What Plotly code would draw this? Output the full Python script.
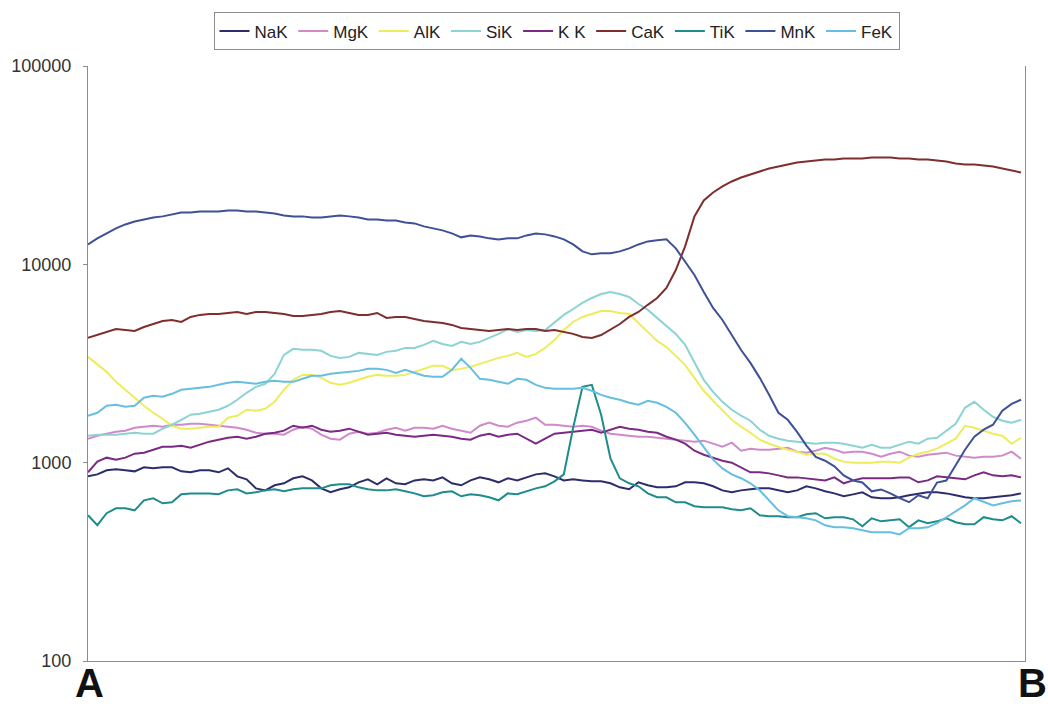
import plotly.graph_objects as go

# scan positions along the profile A -> B
scan_points = list(range(101))

NaK = [853, 873, 915, 925, 915, 904, 947, 936, 947, 947,
       904, 894, 915, 915, 894, 936, 853, 824, 742, 725,
       769, 787, 834, 853, 814, 742, 709, 734, 751, 796,
       824, 778, 834, 787, 778, 814, 824, 814, 843, 787,
       769, 814, 843, 824, 796, 834, 814, 843, 873, 883,
       853, 814, 824, 814, 805, 805, 787, 751, 734, 796,
       769, 751, 751, 760, 796, 796, 787, 760, 725, 709,
       725, 734, 742, 742, 725, 709, 725, 760, 742, 717,
       700, 677, 692, 709, 669, 661, 661, 669, 685, 700,
       709, 709, 700, 685, 669, 661, 661, 669, 677, 685,
       700]

MgK = [1321, 1368, 1400, 1433, 1450, 1501, 1518, 1536, 1518, 1554,
       1554, 1572, 1572, 1554, 1536, 1518, 1501, 1466, 1416, 1400,
       1400, 1384, 1466, 1518, 1484, 1384, 1321, 1306, 1400, 1433,
       1400, 1416, 1466, 1501, 1450, 1501, 1501, 1484, 1536, 1484,
       1450, 1416, 1536, 1591, 1536, 1518, 1591, 1628, 1686, 1554,
       1554, 1536, 1518, 1536, 1518, 1450, 1400, 1384, 1368, 1352,
       1352, 1336, 1321, 1306, 1291, 1276, 1291, 1247, 1204, 1261,
       1149, 1176, 1163, 1163, 1176, 1190, 1136, 1123, 1149, 1190,
       1163, 1123, 1136, 1136, 1110, 1072, 1110, 1136, 1085, 1072,
       1097, 1110, 1123, 1085, 1072, 1060, 1072, 1072, 1085, 1136,
       1047]

AlK = [3415, 3113, 2870, 2556, 2330, 2124, 1936, 1785, 1665, 1535,
       1483, 1483, 1500, 1518, 1518, 1684, 1724, 1848, 1827, 1870,
       2027, 2330, 2616, 2771, 2771, 2677, 2527, 2468, 2527, 2616,
       2709, 2771, 2741, 2741, 2771, 2870, 2971, 3077, 3077, 2937,
       2971, 3042, 3149, 3262, 3376, 3454, 3577, 3415, 3536, 3790,
       4160, 4670, 5120, 5430, 5620, 5820, 5820, 5686, 5620, 5064,
       4510, 4110, 3830, 3454, 3113, 2677, 2304, 2052, 1827, 1645,
       1518, 1416, 1305, 1246, 1204, 1162, 1136, 1097, 1110, 1110,
       1047, 1012, 1000, 1000, 1000, 1012, 1012, 1000, 1060, 1110,
       1136, 1176, 1246, 1321, 1535, 1500, 1449, 1399, 1367, 1246,
       1336]

SiK = [1367, 1383, 1383, 1383, 1399, 1416, 1399, 1399, 1483, 1553,
       1645, 1745, 1765, 1806, 1848, 1936, 2075, 2250, 2411, 2498,
       2805, 3495, 3750, 3706, 3706, 3665, 3454, 3376, 3415, 3577,
       3536, 3495, 3620, 3665, 3790, 3790, 3925, 4110, 3970, 3880,
       4065, 3970, 4065, 4256, 4460, 4720, 4560, 4670, 4610, 4670,
       5120, 5560, 5955, 6385, 6766, 7085, 7250, 7085, 6845, 6310,
       5890, 5366, 4890, 4460, 3925, 3185, 2616, 2276, 2027, 1848,
       1724, 1627, 1466, 1367, 1321, 1290, 1276, 1261, 1246, 1261,
       1261, 1246, 1218, 1190, 1232, 1190, 1190, 1232, 1276, 1246,
       1321, 1336, 1449, 1571, 1891, 2027, 1848, 1704, 1627, 1589,
       1645]

KK = [894, 1012, 1060, 1035, 1060, 1110, 1123, 1163, 1204, 1204,
      1218, 1190, 1232, 1276, 1306, 1336, 1352, 1321, 1352, 1400,
      1416, 1450, 1536, 1501, 1536, 1466, 1433, 1450, 1484, 1433,
      1384, 1400, 1416, 1384, 1368, 1352, 1368, 1384, 1368, 1352,
      1321, 1306, 1368, 1400, 1352, 1384, 1400, 1321, 1247, 1321,
      1400, 1416, 1433, 1450, 1466, 1416, 1466, 1518, 1484, 1466,
      1433, 1416, 1352, 1306, 1247, 1149, 1097, 1060, 1023, 1000,
      947, 894, 894, 883, 863, 843, 843, 834, 824, 814,
      843, 787, 814, 834, 834, 834, 834, 843, 843, 796,
      814, 853, 843, 834, 824, 863, 894, 863, 853, 863,
      843]

CaK = [4256, 4400, 4560, 4720, 4670, 4610, 4830, 5000, 5180, 5240,
       5120, 5430, 5560, 5620, 5620, 5686, 5750, 5620, 5750, 5750,
       5686, 5620, 5490, 5490, 5560, 5620, 5750, 5820, 5686, 5560,
       5560, 5686, 5366, 5430, 5430, 5300, 5180, 5120, 5064, 4950,
       4779, 4720, 4670, 4610, 4670, 4720, 4670, 4720, 4720, 4610,
       4670, 4560, 4460, 4300, 4256, 4400, 4670, 5000, 5430, 5750,
       6250, 6766, 7597, 9360, 12320, 17450, 21000, 23040, 24700, 26170,
       27410, 28370, 29380, 30420, 31130, 31850, 32620, 33000, 33380, 33760,
       33760, 34160, 34160, 34160, 34560, 34560, 34560, 34160, 34160, 33760,
       33760, 33380, 33000, 32230, 31850, 31850, 31480, 31130, 30420, 29720,
       29050]

TiK = [543, 484, 556, 589, 589, 575, 646, 661, 624, 631,
       693, 700, 700, 700, 693, 725, 734, 700, 709, 725,
       734, 717, 734, 742, 742, 742, 769, 778, 778, 751,
       734, 725, 725, 734, 717, 700, 677, 685, 709, 717,
       677, 693, 685, 669, 646, 700, 693, 717, 742, 760,
       805, 873, 1501, 2411, 2468, 1745, 1051, 834, 787, 760,
       700, 669, 669, 631, 631, 603, 596, 596, 596, 582,
       575, 589, 543, 537, 537, 531, 531, 549, 556, 524,
       531, 531, 518, 478, 524, 506, 512, 518, 473, 512,
       495, 506, 524, 501, 489, 489, 531, 518, 512, 537,
       495]

MnK = [12600, 13520, 14320, 15170, 15890, 16450, 16840, 17240, 17450, 17850,
       18270, 18270, 18470, 18470, 18470, 18700, 18700, 18470, 18470, 18270,
       18060, 17650, 17450, 17450, 17240, 17240, 17450, 17650, 17450, 17240,
       16840, 16840, 16650, 16650, 16270, 16080, 15540, 15170, 14830, 14320,
       13680, 13990, 13830, 13520, 13360, 13520, 13520, 13990, 14320, 14160,
       13830, 13360, 12600, 11620, 11230, 11360, 11360, 11620, 12040, 12600,
       13050, 13210, 13360, 12040, 10350, 8830, 7250, 6025, 5240, 4400,
       3700, 3185, 2677, 2200, 1785, 1645, 1430, 1220, 1070, 1023,
       958, 862, 813, 794, 717, 733, 700, 662, 632, 685,
       662, 794, 813, 970, 1162, 1352, 1466, 1553, 1827, 1980,
       2075]

FeK = [1724, 1785, 1936, 1958, 1913, 1936, 2124, 2173, 2149, 2224,
       2330, 2357, 2384, 2411, 2468, 2527, 2556, 2527, 2498, 2556,
       2586, 2556, 2556, 2647, 2741, 2741, 2805, 2837, 2870, 2903,
       2971, 2971, 2937, 2837, 2937, 2837, 2741, 2709, 2709, 2937,
       3340, 3006, 2647, 2616, 2556, 2498, 2647, 2616, 2468, 2384,
       2357, 2357, 2357, 2384, 2304, 2198, 2124, 2075, 2004, 1958,
       2052, 2004, 1913, 1785, 1589, 1383, 1190, 1035, 936, 873,
       835, 787, 725, 645, 575, 537, 530, 524, 512, 483,
       472, 472, 467, 456, 446, 446, 446, 435, 467, 467,
       472, 495, 530, 569, 609, 662, 632, 609, 624, 639,
       645]

series_names = ["NaK", "MgK", "AlK", "SiK", "K K", "CaK", "TiK", "MnK", "FeK"]
series_values = [NaK, MgK, AlK, SiK, KK, CaK, TiK, MnK, FeK]
series_colors = ["#2E2D6B", "#D08ACB", "#EDED5C", "#8CD3D3", "#7A2A82",
                 "#7E2E2E", "#1E8C8C", "#3F5196", "#66BEE0"]

y_tick_values = [100, 1000, 10000, 100000]
y_tick_labels = ["100", "1000", "10000", "100000"]

fig = go.Figure()
for name, vals, color in zip(series_names, series_values, series_colors):
    fig.add_trace(go.Scatter(x=scan_points, y=vals, mode="lines", name=name,
                             line=dict(color=color, width=2)))

FONT = "Liberation Sans, Arial, sans-serif"
fig.update_layout(
    width=1048, height=708,
    margin=dict(l=88, r=23, t=66, b=47),
    paper_bgcolor="white", plot_bgcolor="white",
    font=dict(family=FONT, size=18, color="#333333"),
    showlegend=True,
    legend=dict(orientation="h", x=0.5, xanchor="center", y=1.09, yanchor="top",
                bordercolor="#8c8c8c", borderwidth=1, bgcolor="white",
                font=dict(family=FONT, size=17, color="#222222"),
                traceorder="normal", tracegroupgap=0),
    annotations=[
        dict(text="<b>A</b>", x=0.0016, y=-0.0773, xref="paper", yref="paper",
             xanchor="center", yanchor="bottom", showarrow=False,
             font=dict(family=FONT, size=40, color="#111111")),
        dict(text="<b>B</b>", x=1.0075, y=-0.0773, xref="paper", yref="paper",
             xanchor="center", yanchor="bottom", showarrow=False,
             font=dict(family=FONT, size=40, color="#111111")),
    ],
)
fig.update_xaxes(range=[0, 100.43], showline=True, linecolor="#8c8c8c", linewidth=1,
                 showgrid=False, zeroline=False, showticklabels=False, ticks="")
fig.update_yaxes(type="log", range=[2, 5], tickvals=y_tick_values, ticktext=y_tick_labels,
                 showline=True, linecolor="#8c8c8c", linewidth=1, mirror=True,
                 ticks="outside", ticklen=4, tickcolor="#8c8c8c", showgrid=False,
                 zeroline=False, ticklabelstandoff=8,
                 tickfont=dict(family=FONT, size=18, color="#333333"))

fig.write_html("out.html")
